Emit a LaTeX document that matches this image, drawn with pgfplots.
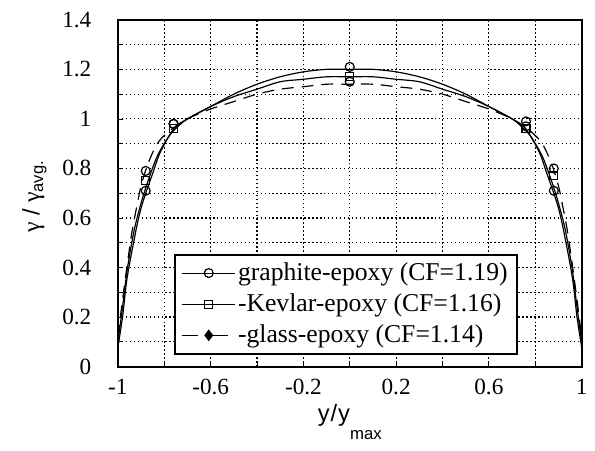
\documentclass[border=0pt]{standalone}
\usepackage{pgfplots}
\pgfplotsset{compat=1.18}
\usepackage{fontspec}
\setmainfont{Liberation Serif}
\newfontfamily\lsans{Liberation Sans}
\begin{document}
\fontsize{23}{27}\selectfont
\begin{tikzpicture}
\begin{axis}[
  name=ax,
  at={(0,0)}, anchor=south west,
  scale only axis,
  width=468bp, height=350bp,
  xmin=-1, xmax=1, ymin=0, ymax=1.4,
  xtick={-1,-0.6,-0.2,0.2,0.6,1},
  xticklabels={-1,-0.6,-0.2,0.2,0.6,1},
  minor xtick={-0.8,-0.4,0,0.4,0.8},
  ytick={0,0.2,0.4,0.6,0.8,1,1.2,1.4},
  yticklabels={0,0.2,0.4,0.6,0.8,1,1.2,1.4},
  minor ytick={0.1,0.3,0.5,0.7,0.9,1.1,1.3},
  grid=both,
  major grid style={black, dash pattern=on 1.5bp off 2.5bp, line width=1.2bp},
  minor grid style={black, dash pattern=on 1.5bp off 2.5bp, line width=1.2bp},
  axis line style={black, line width=2bp},
  tick style={black, line width=0.8pt},
  major tick length=5bp, minor tick length=5bp,
  tick align=inside,
  xtick pos=bottom, ytick pos=left,
  ticklabel style={font=\fontsize{23.5}{27}\selectfont},
  yticklabel style={xshift=-19bp},
  xticklabel style={yshift=-5bp},
  xlabel={\lsans y\kern1bp/\kern1bp y\raisebox{-18bp}{\fontsize{17}{20}\selectfont max}},
  ylabel={{\rmfamily γ} / {\rmfamily γ}\textsubscript{\lsans avg.}},
  label style={font=\lsans\fontsize{24}{28}\selectfont},
  xlabel style={at={(axis description cs:0.5,-0.158)}, anchor=base},
  ylabel style={at={(axis description cs:-0.18,0.49)}, anchor=center, rotate=0},
  legend style={at={(0.12,0.034)}, anchor=south west, draw=black, line width=2bp,
    font=\fontsize{26}{30}\selectfont, row sep=6bp, inner xsep=7bp, inner ysep=6bp,
    legend cell align=left},
  legend image code/.code={%
    \draw[#1, line width=1.2bp] (0cm,0cm) -- (1.9cm,0cm);%
    \draw[#1, line width=1.2bp, only marks] plot coordinates {(0.95cm,0cm)};%
  },
]
% legend entries
\addlegendimage{black, mark=o, mark size=4.5bp, mark options={line width=1.2bp}}
\addlegendentry{graphite-epoxy (CF=1.19)\hspace{10bp}}
\addlegendimage{black, mark=square, mark size=4bp, mark options={line width=1.2bp}}
\addlegendentry{-Kevlar-epoxy (CF=1.16)}
\addlegendimage{black, dash pattern=on 16bp off 14bp, mark=diamond*, mark size=5bp, mark options={solid}}
\addlegendentry{-glass-epoxy (CF=1.14)}

% graphite curve
\addplot[black, line width=1.2bp, smooth, forget plot] coordinates {
(-1,0.08) (-0.98,0.2) (-0.96,0.36) (-0.92,0.56) (-0.9,0.64) (-0.88,0.70) (-0.85,0.78)
(-0.82,0.86) (-0.78,0.93) (-0.75,0.97) (-0.7,1.0) (-0.6,1.05) (-0.5,1.10) (-0.4,1.14) (-0.3,1.17)
(-0.2,1.19) (-0.1,1.2) (0,1.2) (0.1,1.2) (0.2,1.19) (0.3,1.17) (0.4,1.14) (0.5,1.10)
(0.6,1.05) (0.7,1.0) (0.75,0.97) (0.78,0.93) (0.82,0.86) (0.85,0.78) (0.88,0.70) (0.9,0.64)
(0.92,0.56) (0.96,0.36) (0.98,0.2) (1,0.08)};
% Kevlar curve
\addplot[black, line width=1.2bp, smooth, forget plot] coordinates {
(-1,0.1) (-0.98,0.24) (-0.96,0.39) (-0.93,0.55) (-0.9,0.66) (-0.87,0.75) (-0.83,0.85)
(-0.78,0.93) (-0.74,0.97) (-0.7,1.0) (-0.6,1.05) (-0.5,1.09) (-0.4,1.12) (-0.3,1.15)
(-0.2,1.16) (-0.1,1.17) (0,1.17) (0.1,1.17) (0.2,1.16) (0.3,1.15) (0.4,1.12) (0.5,1.09)
(0.6,1.05) (0.7,1.0) (0.74,0.97) (0.78,0.93) (0.83,0.85) (0.87,0.75) (0.9,0.66)
(0.93,0.55) (0.96,0.39) (0.98,0.24) (1,0.1)};
% glass curve
\addplot[black, line width=1.2bp, dash pattern=on 12bp off 8bp, smooth, forget plot] coordinates {
(-1,0.12) (-0.98,0.27) (-0.96,0.41) (-0.94,0.54) (-0.92,0.64) (-0.9,0.73) (-0.87,0.82)
(-0.83,0.9) (-0.78,0.95) (-0.7,1.0) (-0.6,1.04) (-0.5,1.07) (-0.4,1.1) (-0.3,1.12) (-0.2,1.13)
(-0.1,1.14) (0,1.14) (0.1,1.14) (0.2,1.13) (0.3,1.12) (0.4,1.1) (0.5,1.07) (0.6,1.04)
(0.7,1.0) (0.78,0.95) (0.83,0.9) (0.87,0.82) (0.9,0.73) (0.92,0.64) (0.94,0.54) (0.96,0.41)
(0.98,0.27) (1,0.12)};

% markers
\addplot[only marks, black, mark=o, mark size=4.5bp, mark options={line width=1.2bp}, forget plot] coordinates {
(-0.88,0.71) (-0.76,0.98) (0,1.21) (0.76,0.99) (0.88,0.71)};
\addplot[only marks, black, mark=square, mark size=4bp, mark options={line width=1.2bp}, forget plot] coordinates {
(-0.88,0.75) (-0.76,0.96) (0,1.17) (0.76,0.96) (0.88,0.77)};
\addplot[only marks, black, mark=o, mark size=4.5bp, mark options={line width=1.2bp}, forget plot] coordinates {
(-0.88,0.79) (-0.76,0.98) (0,1.15) (0.76,0.97) (0.88,0.80)};
\end{axis}
\path (ax.south west) ++(-119bp,-85bp) rectangle ++(595bp,455bp);
\end{tikzpicture}
\end{document}
